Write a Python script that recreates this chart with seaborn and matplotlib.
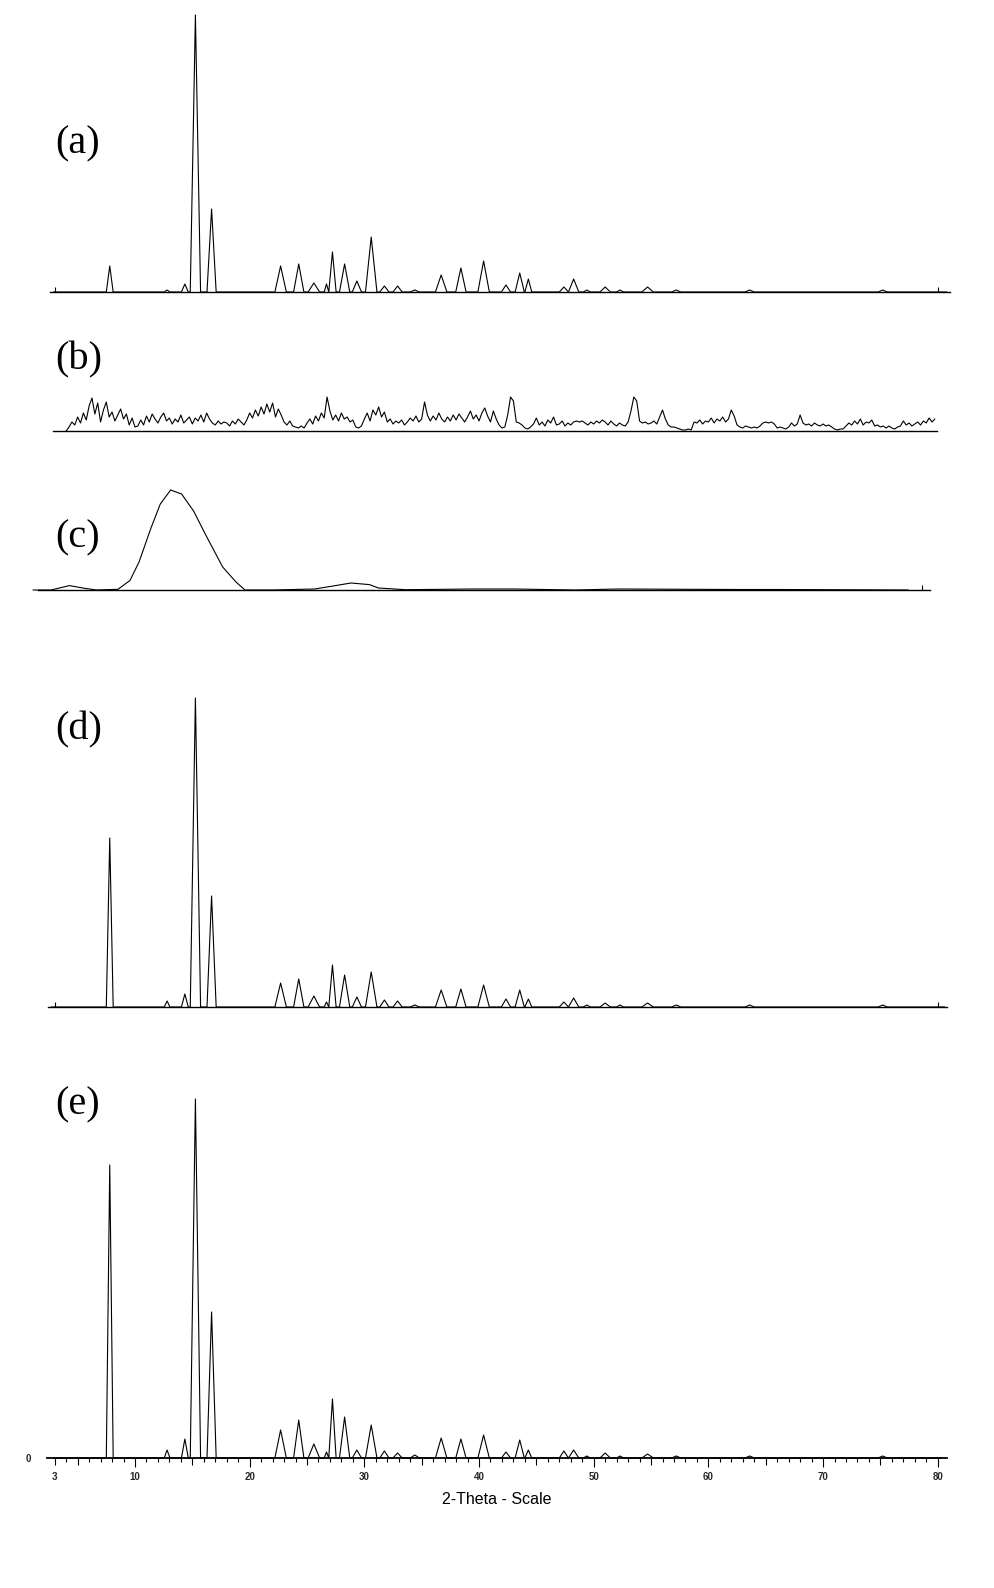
import numpy as np
import pandas as pd
import matplotlib
matplotlib.use("Agg")
import matplotlib.pyplot as plt
import seaborn as sns

# ---------------- data ----------------
# shared reflection positions (2-theta, deg) for patterns (a), (d), (e)
peak_pos = [7.8, 12.8, 14.35, 15.27, 16.68, 22.7, 24.28, 25.6, 26.7, 27.22,
            28.28, 29.35, 30.6, 31.75, 32.9, 34.4, 36.7, 38.42, 40.4, 42.35,
            43.55, 44.3, 47.4, 48.25, 49.4, 51.0, 52.3, 54.7, 57.2, 63.6, 75.2]
peak_hw = [0.3, 0.25, 0.3, 0.45, 0.4, 0.5, 0.45, 0.5, 0.2, 0.32,
           0.45, 0.4, 0.5, 0.4, 0.4, 0.4, 0.5, 0.45, 0.5, 0.4,
           0.4, 0.3, 0.4, 0.45, 0.3, 0.45, 0.3, 0.5, 0.4, 0.4, 0.4]
int_a = [26, 2, 8, 277, 83, 26, 28, 9, 8, 40,
         28, 11, 55, 6, 6, 2, 17, 24, 31, 7,
         19, 13, 5, 13, 2, 5, 2, 5, 2, 2, 2]
int_d = [169, 6, 13, 309, 111, 24, 28, 11, 5, 42,
         32, 10, 35, 7, 6, 2, 17, 18, 22, 8,
         17, 8, 5, 9, 2, 4, 2, 4, 2, 2, 2]
int_e = [293, 8, 19, 359, 146, 28, 38, 14, 6, 59,
         41, 8, 33, 7, 5, 3, 20, 19, 23, 6,
         18, 8, 7, 8, 2, 5, 2, 4, 2, 2, 2]

# pattern (b): noisy low-crystallinity scan, 4.0 .. 79.75 deg, step 0.25
b_start, b_step = 4.0, 0.25
int_b = [0, 4, 9, 6, 14, 8, 18, 11, 25, 33, 17, 28, 9, 21, 29, 14,
         19, 10, 16, 22, 12, 17, 6, 13, 4, 5, 11, 6, 15, 9, 17, 12,
         8, 14, 18, 10, 13, 7, 12, 9, 16, 8, 11, 14, 7, 13, 10, 16,
         9, 18, 12, 8, 6, 10, 7, 9, 8, 5, 10, 7, 12, 9, 6, 11,
         18, 13, 21, 15, 24, 17, 27, 19, 28, 14, 22, 16, 9, 6, 10, 5,
         4, 3, 5, 3, 8, 12, 7, 15, 10, 18, 13, 34, 20, 11, 16, 10,
         18, 12, 14, 9, 11, 4, 3, 5, 12, 18, 10, 21, 16, 24, 14, 19,
         9, 12, 7, 10, 8, 11, 6, 9, 13, 10, 15, 9, 12, 29, 16, 10,
         15, 11, 18, 12, 9, 14, 10, 16, 11, 17, 13, 9, 14, 20, 12, 16,
         10, 18, 23, 15, 9, 20, 12, 6, 3, 4, 16, 34, 30, 9, 8, 6,
         3, 2, 4, 7, 13, 6, 9, 5, 11, 8, 14, 6, 7, 10, 5, 8,
         6, 9, 10, 9, 10, 8, 6, 9, 7, 10, 8, 11, 9, 6, 10, 7,
         5, 8, 6, 5, 9, 20, 34, 30, 10, 8, 9, 7, 8, 10, 7, 14,
         21, 12, 6, 4, 4, 3, 2, 1, 1, 2, 1, 9, 8, 11, 7, 10,
         9, 13, 8, 12, 10, 14, 9, 12, 21, 15, 6, 4, 3, 5, 4, 3,
         4, 3, 5, 8, 9, 8, 9, 7, 3, 4, 3, 2, 4, 8, 5, 7,
         16, 8, 6, 7, 5, 8, 6, 5, 7, 5, 6, 4, 2, 1, 2, 2,
         5, 8, 6, 10, 7, 12, 6, 9, 8, 11, 5, 6, 4, 5, 3, 5,
         3, 2, 4, 5, 10, 6, 8, 5, 7, 9, 6, 10, 8, 13, 9, 12]

# pattern (c): amorphous halo
c_theta = [1.77, 3.37, 4.97, 6.30, 7.37, 9.24, 10.30, 11.10, 12.15, 12.97,
           13.88, 14.84, 15.90, 16.97, 18.46, 19.63, 20.42, 22.83, 26.56,
           28.17, 29.75, 31.37, 32.17, 34.57, 40.44, 44.17, 49.5, 53.23,
           63.9, 67.6, 78.8]
c_int = [0, 0, 4.4, 1.7, 0, 0.7, 9.5, 28, 62, 86,
         100, 96, 79, 55, 23, 8, 0, 0, 1,
         4, 7, 5.4, 2, 0.3, 1, 1, 0, 1,
         0.5, 0.5, 0]

tick_major = [3, 10, 20, 30, 40, 50, 60, 70, 80]
tick_labels = ["3", "10", "20", "30", "40", "50", "60", "70", "80"]
panel_labels = ["(a)", "(b)", "(c)", "(d)", "(e)"]
xlabel_text = "2-Theta - Scale"

# ---------------- helpers ----------------
sns.set_style("ticks")
plt.rcParams["font.family"] = ["Liberation Sans", "DejaVu Sans"]

W, H = 995, 1588
fig = plt.figure(figsize=(W / 100, H / 100), dpi=100)

PX0, PXS = 54.7, 11.468            # pixel position of 3 deg, pixels per deg
def deg(px, p0=PX0, s=PXS):
    return 3 + (px - p0) / s

def make_ax(L, R, base, height, lim):
    ax = fig.add_axes([L / W, 1 - base / H, (R - L) / W, height / H])
    ax.set_xlim(*lim)
    ax.set_ylim(0, height)
    for s in ["top", "right", "left"]:
        ax.spines[s].set_visible(False)
    ax.spines["bottom"].set_color("black")
    ax.spines["bottom"].set_linewidth(1.0)
    ax.set_yticks([])
    ax.set_facecolor("none")
    return ax

def profile(heights, lo, hi):
    xs, ys = [lo], [0]
    for p, h, w in zip(peak_pos, heights, peak_hw):
        xs += [p - w, p, p + w]
        ys += [0, h, 0]
    xs.append(hi)
    ys.append(0)
    return pd.DataFrame({"theta": xs, "I": ys})

def draw(ax, df):
    sns.lineplot(data=df, x="theta", y="I", ax=ax, color="black", lw=0.8,
                 estimator=None, sort=False, clip_on=False)
    ax.set_xlabel("")
    ax.set_ylabel("")

def end_ticks(ax, locs):
    ax.set_xticks(locs)
    ax.tick_params(axis="x", which="major", direction="in", length=3.6,
                   width=0.8, color="black", labelbottom=False)

# ---------------- (a) ----------------
lim_a = (deg(50), deg(950))
ax_a = make_ax(50, 950, 292, 285, lim_a)
draw(ax_a, profile(int_a, lim_a[0] + 0.3, 80.8))
end_ticks(ax_a, [3, 80])

# ---------------- (b) ----------------
lim_b = (deg(53), deg(937))
ax_b = make_ax(53, 937, 431, 45, lim_b)
b_theta = [b_start + i * b_step for i in range(len(int_b))]
draw(ax_b, pd.DataFrame({"theta": b_theta, "I": int_b}))
ax_b.set_xticks([])

# ---------------- (c) ----------------
lim_c = (deg(38, 47, 11.364), deg(930, 47, 11.364))
ax_c = make_ax(38, 930, 590, 110, lim_c)
draw(ax_c, pd.DataFrame({"theta": c_theta, "I": c_int}))
end_ticks(ax_c, [80])

# ---------------- (d) ----------------
lim_d = (deg(47.6), deg(947))
ax_d = make_ax(47.6, 947, 1007, 320, lim_d)
draw(ax_d, profile(int_d, lim_d[0] + 0.3, 80.6))
end_ticks(ax_d, [3, 80])

# ---------------- (e) ----------------
lim_e = (deg(46.7), deg(946.7))
ax_e = make_ax(46.7, 946.7, 1458, 370, lim_e)
draw(ax_e, profile(int_e, 2.9, 80.3))
ax_e.spines["bottom"].set_linewidth(1.3)
ax_e.set_xticks(tick_major)
ax_e.set_xticklabels(tick_labels)
ax_e.set_xticks(np.arange(3, 81), minor=True)
ax_e.tick_params(axis="x", which="major", direction="out", length=6.5,
                 width=0.8, color="black", pad=3.5, labelsize=7)
ax_e.tick_params(axis="x", which="minor", direction="out", length=3.0,
                 width=0.8, color="black")
for lbl in ax_e.get_xticklabels():
    lbl.set_fontweight("bold")
ax_e.set_yticks([0])
ax_e.set_yticklabels(["0"])
ax_e.tick_params(axis="y", length=0, pad=11, labelsize=7)
for lbl in ax_e.get_yticklabels():
    lbl.set_fontweight("bold")
ax_e.set_xlabel(xlabel_text, fontsize=11.5, color="black")
ax_e.xaxis.label.set_va("center")
ax_e.xaxis.set_label_coords(0.5, -41 / 370)

fig.canvas.draw()
for t, loc in zip(ax_e.xaxis.get_minor_ticks(), ax_e.xaxis.get_minorticklocs()):
    if abs(loc % 5) < 1e-6:
        t.tick1line.set_markersize(4.8)
ax_e.xaxis.get_major_ticks()[0].tick1line.set_markersize(4.8)

# ---------------- panel letters ----------------
for lab, cy in zip(panel_labels, [144, 360, 538, 730, 1105]):
    fig.text(55 / W, 1 - cy / H, lab, fontsize=29, family="Liberation Serif",
             va="center", ha="left", color="black")

fig.savefig("out.png", dpi=100, facecolor="white")
